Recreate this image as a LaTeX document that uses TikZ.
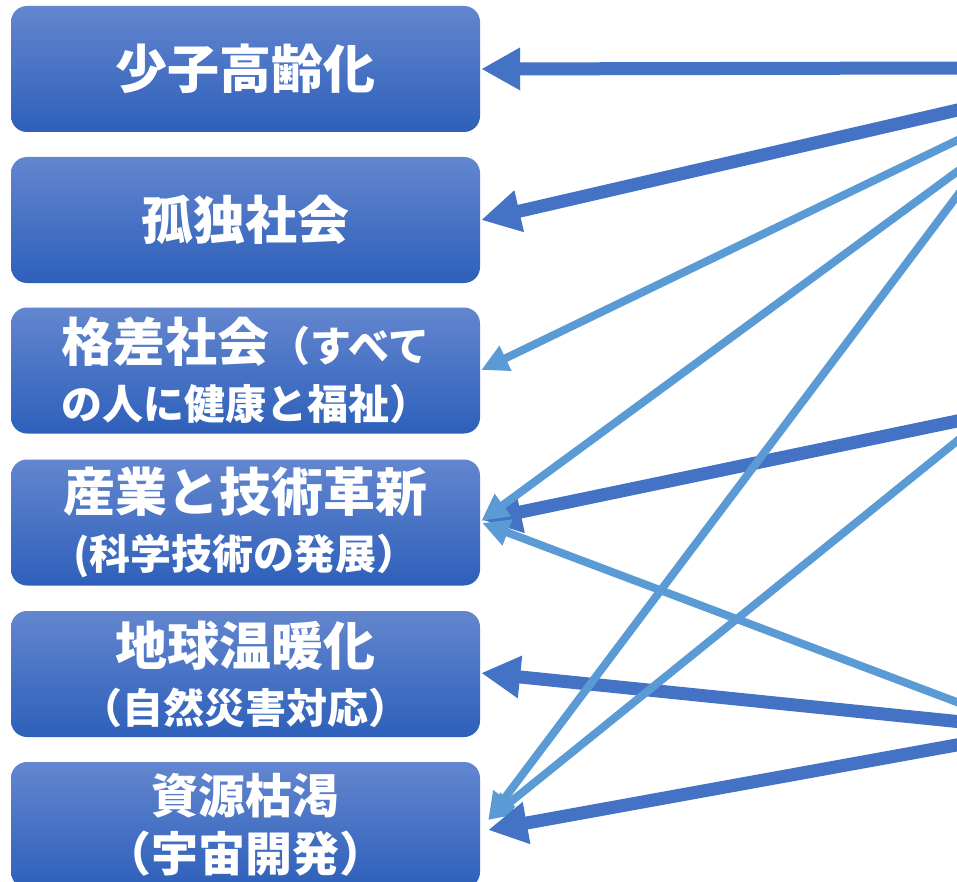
\documentclass[tikz,border=0pt]{standalone}
\usepackage{fontspec}
\newfontfamily\jp{Noto Sans CJK JP}
\usetikzlibrary{arrows.meta}
\definecolor{darkarrow}{RGB}{68,114,196}
\definecolor{lightarrow}{RGB}{91,155,213}
\definecolor{boxtop}{RGB}{99,134,207}
\definecolor{boxbot}{RGB}{46,96,186}
\tikzset{
  topic/.style={rounded corners=16pt, minimum width=469pt, minimum height=126pt,
    top color=boxtop, bottom color=boxbot, draw=none, text=white, align=center,
    inner sep=0pt, font=\jp\bfseries\fontsize{52}{58}\selectfont},
  strong/.style={draw=darkarrow, line width=13pt, -{Triangle[length=39pt,width=40pt]}},
  weak/.style={draw=lightarrow, line width=8pt, -{Triangle[length=27pt,width=26pt]}},
}
\newcommand{\smalltxt}[1]{{\fontsize{41}{58}\selectfont #1}}
\newcommand{\midtxt}[1]{{\fontsize{47}{58}\selectfont #1}}
\begin{document}
\begin{tikzpicture}[x=1pt,y=-1pt]
\clip (0,0) rectangle (957,882);
\fill[white] (0,0) rectangle (957,882);
\node[topic] (b1) at (245.5,69) {少子高齢化};
\node[topic] (b2) at (245.5,220) {孤独社会};
\node[topic] (b3) at (245.5,370.5) {格差社会\smalltxt{（すべて}\\\smalltxt{の人に健康と福祉）}};
\node[topic] (b4) at (245.5,522.5) {産業と技術革新\\\smalltxt{(科学技術の発展）}};
\node[topic] (b5) at (245.5,674) {地球温暖化\\\smalltxt{（自然災害対応）}};
\node[topic] (b6) at (245.5,825) {\midtxt{資源枯渇}\\\midtxt{（宇宙開発）}};
\coordinate (sA1) at (962,68);
\coordinate (sA2) at (962,109);
\coordinate (sL1) at (962,138);
\coordinate (sL2) at (962,168);
\coordinate (sL3) at (960,192);
\coordinate (sA3) at (962,420);
\coordinate (sL4) at (962,437);
\coordinate (sL5) at (962,704);
\coordinate (sA4) at (962,722);
\coordinate (sA5) at (962,744);
\draw[strong] (sA1) -- ([xshift=1pt]b1.east);
\draw[strong] (sA2) -- ([xshift=1pt]b2.east);
\draw[strong] (sA3) -- ([xshift=2pt,yshift=2.5pt]b4.east);
\draw[strong] (sA4) -- ([xshift=1pt,yshift=1pt]b5.east);
\draw[weak] (sL1) -- ([xshift=1pt,yshift=0.5pt]b3.east);
\draw[weak] (sL2) -- ([xshift=1pt,yshift=1.5pt]b4.east);
\draw[weak] (sL5) -- ([xshift=2pt,yshift=-0.5pt]b4.east);
\draw[weak] (sL3) -- ([xshift=8pt,yshift=5pt]b6.east);
\draw[weak] (sL4) -- ([xshift=8pt,yshift=5pt]b6.east);
\draw[strong] (sA5) -- ([xshift=8pt,yshift=-5pt]b6.east);
\end{tikzpicture}
\end{document}
